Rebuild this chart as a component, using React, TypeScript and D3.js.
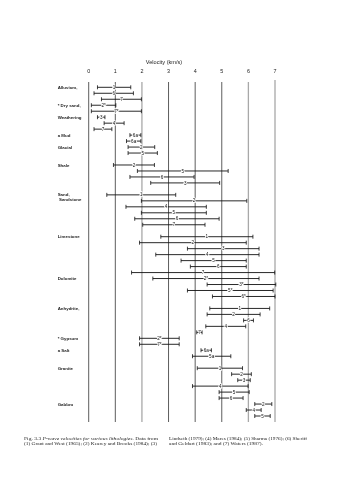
import React from "react";
import * as d3 from "d3";

// ---------- DATA ----------
const velocityTicks = [0, 1, 2, 3, 4, 5, 6, 7];

const lithologies = [
  "Alluvium,",
  "* Dry sand,",
  "Weathering",
  "a Mud",
  "Glacial",
  "Shale",
  "Sand,|Sandstone",
  "Limestone",
  "Dolomite",
  "Anhydrite,",
  "* Gypsum",
  "a Salt",
  "Granite",
  "Gabbro",
];

// each bar: lithology index, source label, min & max velocity (km/s)
const barRock = [
  0, 0, 0,
  1, 1,
  2, 2, 2,
  3, 3,
  4, 4,
  5, 5, 5, 5,
  6, 6, 6, 6, 6, 6,
  7, 7, 7, 7, 7, 7, 7,
  8, 8, 8, 8,
  9, 9, 9, 9, 9,
  10, 10,
  11, 11,
  12, 12, 12, 12, 12, 12,
  13, 13, 13,
];
const barSource = [
  "1", "6", "7",
  "2*", "7*",
  "3", "4", "7",
  "6a", "6a",
  "2", "5",
  "2", "5", "6", "3",
  "1", "2", "4", "5", "6", "7",
  "1", "2", "3", "4", "5", "6", "7",
  "2*", "3*", "5*", "6*",
  "1", "2", "6", "4", "7",
  "2*", "7*",
  "6a", "5a",
  "1", "2", "3", "4", "5", "6",
  "2", "4", "5",
];
const barMin = [
  0.33, 0.2, 0.48,
  0.1, 0.1,
  0.33, 0.58, 0.2,
  1.55, 1.42,
  1.48, 1.48,
  0.93, 1.83, 1.55, 2.33,
  0.68, 1.98, 1.4, 1.98, 1.73, 2.03,
  2.71, 1.91, 3.71, 2.52, 3.47, 3.82, 1.61,
  2.41, 4.45, 3.71, 4.65,
  4.55, 4.45, 5.82, 4.4, 4.06,
  1.91, 1.91,
  4.22, 3.9,
  4.08, 5.37, 5.6, 3.9, 4.9, 4.9,
  6.24, 5.92, 6.24,
];
const barMax = [
  1.58, 1.68, 1.98,
  1.02, 1.98,
  0.61, 1.33, 0.87,
  1.96, 1.96,
  2.48, 2.58,
  2.47, 5.24, 3.96, 4.92,
  3.27, 5.94, 4.42, 4.42, 4.9, 4.37,
  6.17, 5.92, 6.4, 6.4, 5.92, 5.92, 6.99,
  6.4, 7.03, 6.93, 7.0,
  6.8, 6.44, 6.19, 5.9, 4.26,
  3.4, 3.4,
  4.61, 5.34,
  5.78, 6.11, 6.07, 5.99, 6.03, 5.8,
  6.88, 6.48, 6.82,
];

const captionLeft = [
  ["Fig. 3.3", "P-wave velocities for various lithologies.", "Data from"],
  ["(1) Grant and West (1965); (2) Kearey and Brooks (1984); (3)"],
];
const captionRight = [
  "Lindseth (1979); (4) Mares (1984); (5) Sharma (1976); (6) Sheriff",
  "and Geldart (1983); and (7) Waters (1987).",
];

// ---------- LAYOUT ----------
const W = 357;
const H = 480;
// extra empty row inserted before these lithology groups
const gapBefore = new Set([5, 6, 7, 9, 12]);

export default function App() {
  const x = d3.scaleLinear().domain([0, 7]).range([88.7, 275]);

  const slots: number[] = [];
  const firstSlotOfRock: Record<number, number> = {};
  let slot = 0;
  let prevRock = -1;
  barRock.forEach((r) => {
    if (r !== prevRock) {
      if (gapBefore.has(r)) slot += 1;
      firstSlotOfRock[r] = slot;
      prevRock = r;
    }
    slots.push(slot);
    slot += 1;
  });
  const y = d3.scaleLinear().domain([0, slot - 1]).range([87.3, 416]);

  const sans = "'Liberation Sans', Arial, sans-serif";
  const serif = "'Liberation Serif', 'Times New Roman', serif";
  const grayLines = new Set([2, 6, 7]);

  return (
    <div
      style={{
        position: "absolute",
        left: 0,
        top: 0,
        width: W,
        height: H,
        background: "#fff",
        transform: "translateZ(0)",
        willChange: "transform",
      }}
    >
      <svg width={W} height={H} style={{ display: "block" }}>
        <rect x={0} y={0} width={W} height={H} fill="#fff" />
        <g opacity={0.999}>
          <text x={164} y={63.5} textAnchor="middle" fontFamily={sans} fontSize={5.6} fill="#222">
            Velocity (km/s)
          </text>
          {velocityTicks.map((t) => (
            <g key={t}>
              <text x={x(t)} y={73} textAnchor="middle" fontFamily={sans} fontSize={5.4} fill="#222">
                {t}
              </text>
              <line
                x1={x(t)}
                x2={x(t)}
                y1={t === 7 ? 80 : 82}
                y2={422}
                stroke={grayLines.has(t) ? "#a8a8a8" : "#333"}
                strokeWidth={grayLines.has(t) ? 1.3 : 0.8}
              />
            </g>
          ))}
          {lithologies.map((name, r) => {
            const parts = name.split("|");
            const yy = y(firstSlotOfRock[r]);
            return (
              <text
                key={name}
                x={57.7}
                y={yy + 1.6}
                fontFamily={sans}
                fontSize={4.4}
                fontWeight={700}
                fill="#222"
              >
                {parts.map((p, k) => (
                  <tspan key={k} x={k === 0 ? 57.7 : 59} dy={k === 0 ? 0 : 4.6}>
                    {p}
                  </tspan>
                ))}
              </text>
            );
          })}
          {barRock.map((r, i) => {
            const yy = y(slots[i]);
            const x0 = x(barMin[i]);
            const x1 = x(barMax[i]);
            const xm = (x0 + x1) / 2;
            return (
              <g key={i}>
                <line x1={x0} x2={x1} y1={yy} y2={yy} stroke="#111" strokeWidth={0.9} />
                <line x1={x0} x2={x0} y1={yy - 2} y2={yy + 2} stroke="#111" strokeWidth={0.8} />
                <line x1={x1} x2={x1} y1={yy - 2} y2={yy + 2} stroke="#111" strokeWidth={0.8} />
                <text
                  x={xm}
                  y={yy + 1.6}
                  textAnchor="middle"
                  fontFamily={sans}
                  fontSize={4.6}
                  fill="#111"
                  stroke="#fff"
                  strokeWidth={1.6}
                  paintOrder="stroke"
                >
                  {barSource[i]}
                </text>
              </g>
            );
          })}
          <text x={24} y={439.5} fontFamily={serif} fontSize={4.4} fill="#222" textLength={134} lengthAdjust="spacingAndGlyphs">
            <tspan>{captionLeft[0][0]}</tspan>
            <tspan fontStyle="italic">{"  " + captionLeft[0][1]}</tspan>
            <tspan>{" " + captionLeft[0][2]}</tspan>
          </text>
          <text x={24} y={444.5} fontFamily={serif} fontSize={4.4} fill="#222" textLength={133} lengthAdjust="spacingAndGlyphs">
            {captionLeft[1][0]}
          </text>
          <text x={169} y={439.5} fontFamily={serif} fontSize={4.4} fill="#222" textLength={138} lengthAdjust="spacingAndGlyphs">
            {captionRight[0]}
          </text>
          <text x={169} y={444.5} fontFamily={serif} fontSize={4.4} fill="#222" textLength={94} lengthAdjust="spacingAndGlyphs">
            {captionRight[1]}
          </text>
        </g>
      </svg>
    </div>
  );
}
